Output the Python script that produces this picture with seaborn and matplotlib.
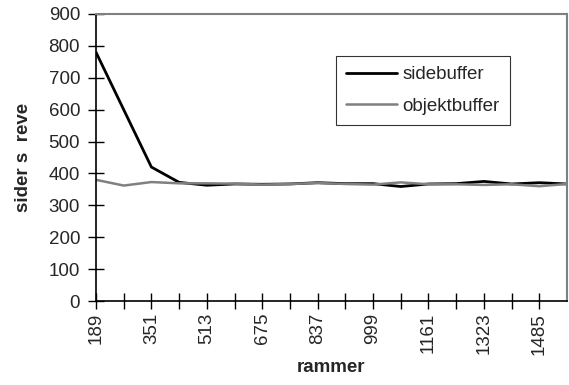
import matplotlib
matplotlib.use("Agg")
import matplotlib.pyplot as plt
import seaborn as sns
import pandas as pd
import numpy as np
from matplotlib.lines import Line2D

frames = [189, 270, 351, 432, 513, 594, 675, 756, 837, 918, 999, 1080, 1161, 1242, 1323, 1404, 1485, 1566]
sidebuffer = [780, 600, 420, 372, 363, 367, 366, 367, 371, 368, 368, 359, 367, 368, 375, 367, 371, 367]
objektbuffer = [380, 362, 373, 369, 369, 368, 365, 367, 370, 367, 365, 372, 366, 366, 364, 366, 360, 367]
tick_labels = ["189", "351", "513", "675", "837", "999", "1161", "1323", "1485"]

df = pd.DataFrame({
    "rammer": frames * 2,
    "value": sidebuffer + objektbuffer,
    "serie": ["sidebuffer"] * len(frames) + ["objektbuffer"] * len(frames),
})

sns.set_style("white")
plt.rcParams["font.family"] = ["Liberation Sans", "DejaVu Sans"]

FS = 13.5

fig = plt.figure(figsize=(5.69, 3.85), dpi=100)
ax = fig.add_axes([96 / 569, 1 - 301 / 385, (567 - 96) / 569, (301 - 14) / 385])

sns.lineplot(data=df, x="rammer", y="value", hue="serie",
             palette={"sidebuffer": "#000000", "objektbuffer": "#808080"},
             ax=ax, legend=False)
for line, lw in zip(ax.get_lines(), [2.0, 1.8]):
    line.set_linewidth(lw)

ax.set_xlim(189, 1566)
ax.set_ylim(0, 900)
ax.set_yticks(range(0, 901, 100))
ax.set_xticks(frames[:-1])
lbl_map = {int(t): t for t in tick_labels}
ax.set_xticklabels([lbl_map.get(f, "") for f in frames[:-1]], rotation=90, fontsize=FS)
ax.tick_params(axis="y", labelsize=FS)
ax.tick_params(axis="both", bottom=True, left=True, direction="inout",
               length=11, width=1.0, color="black", pad=3)
ax.tick_params(axis="y", pad=6)

for side in ["left", "bottom"]:
    ax.spines[side].set_color("black")
    ax.spines[side].set_linewidth(1.2)
for side in ["top", "right"]:
    ax.spines[side].set_color("#808080")
    ax.spines[side].set_linewidth(1.5)

ax.set_xlabel("rammer", fontsize=FS, fontweight="bold", labelpad=3)
ax.set_ylabel("sider s  reve", fontsize=FS, fontweight="bold", labelpad=12)

handles = [Line2D([], [], color="#000000", lw=2.0), Line2D([], [], color="#808080", lw=1.8)]
leg = ax.legend(handles, ["sidebuffer", "objektbuffer"], loc="upper left",
                bbox_to_anchor=(336 / 569, 1 - 56 / 385), bbox_transform=fig.transFigure,
                frameon=True, fancybox=False, fontsize=FS, handlelength=2.7,
                borderpad=0.55, labelspacing=0.75, handletextpad=0.3, borderaxespad=0)
leg.get_frame().set_edgecolor("black")
leg.get_frame().set_linewidth(0.8)

fig.savefig("out.png", dpi=100)
